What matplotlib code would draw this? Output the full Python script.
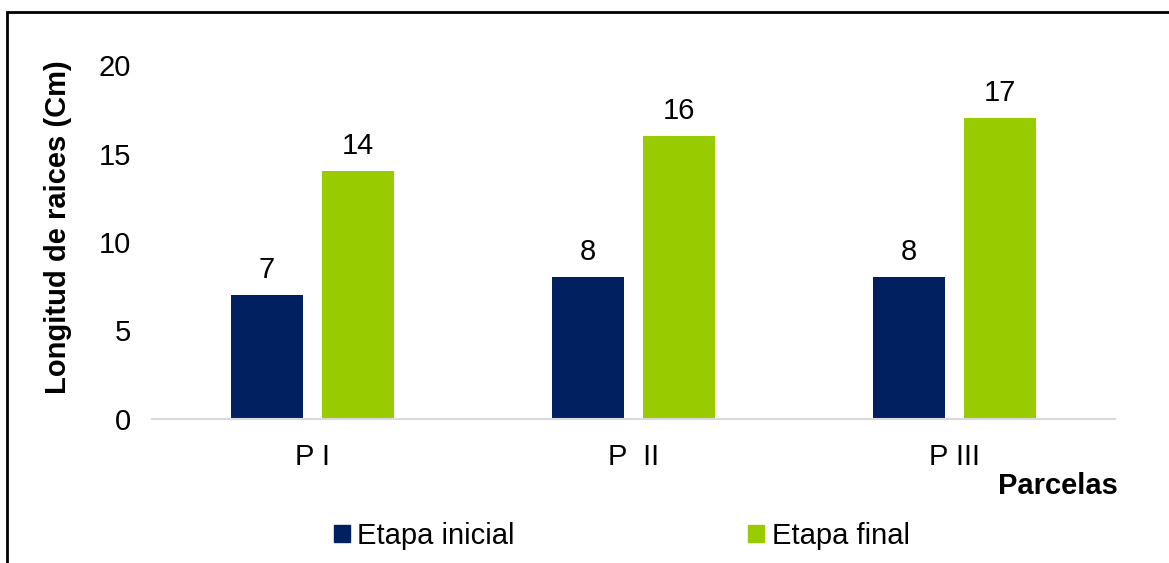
import matplotlib.pyplot as plt
import matplotlib.patches as mpatches
import numpy as np

plt.rcParams['font.family'] = ['Liberation Sans', 'DejaVu Sans']

parcelas = ['P I', 'P  II', 'P III']
etapa_inicial = [7, 8, 8]
etapa_final = [14, 16, 17]

azul = '#002060'
verde = '#99CC00'

fig = plt.figure(figsize=(11.69, 5.63), dpi=100)
ax = fig.add_axes([0.130, 0.2558, 0.824, 0.6287])

x = np.arange(len(parcelas))
ancho = 0.224
desp = 0.1417

b1 = ax.bar(x - desp, etapa_inicial, ancho, color=azul)
b2 = ax.bar(x + desp, etapa_final, ancho, color=verde)

for barras in (b1, b2):
    for b in barras:
        ax.annotate(f'{b.get_height():g}', (b.get_x() + b.get_width() / 2, b.get_height()),
                    xytext=(0, 8), textcoords='offset points',
                    ha='center', va='bottom', fontsize=21)

ax.set_xlim(-0.5, 2.5)
ax.set_ylim(0, 20)
ax.set_yticks([0, 5, 10, 15, 20])
ax.set_xticks(x)
ax.set_xticklabels(parcelas)
ax.tick_params(axis='both', length=0, labelsize=21)
ax.tick_params(axis='y', pad=15)
ax.tick_params(axis='x', pad=17)

for lado in ['top', 'right', 'left']:
    ax.spines[lado].set_visible(False)
ax.spines['bottom'].set_color('#d9d9d9')
ax.spines['bottom'].set_linewidth(1.5)

ax.set_ylabel('Longitud de raices (Cm)', fontsize=21, fontweight='bold')
ax.yaxis.set_label_coords(-0.083, 0.542)
fig.text(0.956, 0.137, 'Parcelas', fontsize=21, fontweight='bold', ha='right', va='center')

handles = [mpatches.Patch(color=azul, label='Etapa inicial'),
           mpatches.Patch(color=verde, label='Etapa final')]
fig.legend(handles=handles, loc='center', bbox_to_anchor=(0.532, 0.048), ncol=2,
           frameon=False, fontsize=21, handlelength=0.55, handleheight=0.55,
           handletextpad=0.25, columnspacing=8.0)

# marco exterior
fig.patches.append(mpatches.Rectangle((7 / 1169, -0.1), 1.2, 1 - 12 / 563 + 0.1,
                                      transform=fig.transFigure, fill=False,
                                      edgecolor='black', linewidth=2, clip_on=False))

fig.savefig('out.png', dpi=100)
